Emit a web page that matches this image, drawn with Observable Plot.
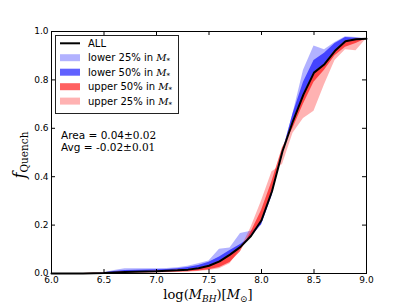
<!DOCTYPE html>
<html>
<head>
<meta charset="utf-8">
<script src="https://cdn.jsdelivr.net/npm/d3@7"></script>
<script src="https://cdn.jsdelivr.net/npm/@observablehq/plot@0.6"></script>
<style>
  html, body { margin: 0; padding: 0; background: #fff; }
  #chart { position: relative; width: 407px; height: 305px; }
</style>
</head>
<body>
<div id="chart"></div>
<script>
// ---- data ----
const logMBH = [6.0,6.1,6.2,6.3,6.4,6.5,6.6,6.7,6.8,6.9,7.0,7.1,7.2,7.3,7.4,7.5,7.6,7.7,7.8,7.9,8.0,8.1,8.2,8.3,8.4,8.5,8.6,8.7,8.8,8.9,9.0];
const fAll   = [0,0,0,0,0.001,0.002,0.004,0.006,0.007,0.008,0.009,0.011,0.013,0.016,0.022,0.032,0.05,0.078,0.11,0.155,0.22,0.34,0.505,0.63,0.74,0.83,0.865,0.92,0.96,0.968,0.97];
const fLow25 = [0,0,0,0,0.001,0.003,0.012,0.02,0.02,0.02,0.02,0.021,0.024,0.03,0.04,0.052,0.10,0.105,0.165,0.175,0.20,0.32,0.50,0.66,0.84,0.94,0.925,0.955,0.978,0.975,0.97];
const fLow50 = [0,0,0,0,0.001,0.003,0.008,0.012,0.013,0.014,0.015,0.017,0.02,0.025,0.033,0.046,0.068,0.095,0.12,0.15,0.20,0.32,0.50,0.66,0.79,0.88,0.91,0.95,0.975,0.972,0.97];
const fUp50  = [0,0,0,0,0,0.001,0.002,0.002,0.003,0.003,0.004,0.005,0.006,0.007,0.01,0.015,0.025,0.045,0.09,0.17,0.26,0.38,0.52,0.60,0.70,0.79,0.84,0.90,0.935,0.95,0.97];
const fUp25  = [0,0,0,0,0,0.001,0.001,0.002,0.002,0.002,0.002,0.003,0.004,0.005,0.008,0.012,0.02,0.04,0.10,0.19,0.30,0.42,0.45,0.58,0.64,0.67,0.78,0.88,0.925,0.92,0.97];
const xTicks = [6.0,6.5,7.0,7.5,8.0,8.5,9.0];
const yTicks = [0.0,0.2,0.4,0.6,0.8,1.0];
const seriesNames = ["lower 25% in ", "lower 50% in ", "upper 50% in ", "upper 25% in "];
const areaText = ["Area = 0.04", "±0.02"];
const avgText = ["Avg = -0.02", "±0.01"];

const table = logMBH.map((x, i) => ({x, all: fAll[i], l25: fLow25[i], l50: fLow50[i], u50: fUp50[i], u25: fUp25[i]}));
const fills = ["rgba(0,0,255,0.3)", "rgba(0,0,255,0.62)", "rgba(255,0,0,0.62)", "rgba(255,0,0,0.3)"];

const W = 407, H = 305, mL = 51, mR = 41, mT = 31, mB = 32;
const innerW = W - mL - mR, innerH = H - mT - mB;
const tk = 4;

const plot = Plot.plot({
  width: W, height: H,
  marginLeft: mL, marginRight: mR, marginTop: mT, marginBottom: mB,
  style: {fontFamily: "DejaVu Sans", fontSize: "9px", background: "#fff", color: "#000"},
  x: {domain: [6, 9]},
  y: {domain: [0, 1]},
  marks: [
    Plot.areaY(table, {x: "x", y1: "all", y2: "l25", fill: fills[0]}),
    Plot.areaY(table, {x: "x", y1: "all", y2: "l50", fill: fills[1]}),
    Plot.areaY(table, {x: "x", y1: "all", y2: "u50", fill: fills[2]}),
    Plot.areaY(table, {x: "x", y1: "all", y2: "u25", fill: fills[3]}),
    Plot.line(table, {x: "x", y: "all", stroke: "#000", strokeWidth: 2}),
    Plot.frame({stroke: "#000", strokeWidth: 1}),
    Plot.tickX(xTicks, {x: d => d, insetTop: innerH - tk, stroke: "#000"}),
    Plot.tickX(xTicks, {x: d => d, insetBottom: innerH - tk, stroke: "#000"}),
    Plot.tickY(yTicks, {y: d => d, insetRight: innerW - tk, stroke: "#000"}),
    Plot.tickY(yTicks, {y: d => d, insetLeft: innerW - tk, stroke: "#000"}),
    Plot.axisX({ticks: xTicks, tickSize: 0, tickPadding: 3, tickFormat: d3.format(".1f"), label: null}),
    Plot.axisY({ticks: yTicks, tickSize: 0, tickPadding: 3, tickFormat: d3.format(".1f"), label: null})
  ]
});
document.getElementById("chart").appendChild(plot);

const svg = d3.select(plot);
const serif = "DejaVu Serif";

// legend
const lg = svg.append("g").attr("text-anchor", "start");
lg.append("rect").attr("x", 55.5).attr("y", 35.5).attr("width", 123).attr("height", 78)
  .attr("fill", "#fff").attr("stroke", "#222").attr("stroke-width", 1);
const rows = [43.3, 57.7, 72.2, 86.7, 101.1];
lg.append("line").attr("x1", 60).attr("x2", 80).attr("y1", rows[0]).attr("y2", rows[0])
  .attr("stroke", "#000").attr("stroke-width", 2);
lg.append("text").attr("x", 88).attr("y", rows[0] + 3.6).attr("font-family", "DejaVu Sans")
  .attr("font-size", 10).text("ALL");
seriesNames.forEach((name, i) => {
  const y = rows[i + 1];
  lg.append("rect").attr("x", 60).attr("y", y - 3.5).attr("width", 20).attr("height", 7).attr("fill", fills[i]);
  const t = lg.append("text").attr("x", 88).attr("y", y + 3.6).attr("font-family", "DejaVu Sans").attr("font-size", 10);
  t.append("tspan").text(name);
  t.append("tspan").attr("font-family", serif).attr("font-style", "italic").text("M");
  t.append("tspan").attr("font-family", serif).attr("font-size", 7).attr("dy", 2).text("*");
});

// annotation
[[areaText, 139], [avgText, 151]].forEach(([parts, y]) => {
  const t = svg.append("text").attr("text-anchor", "start").attr("x", 61).attr("y", y)
    .attr("font-family", "DejaVu Sans").attr("font-size", 10.5);
  t.append("tspan").text(parts[0]);
  t.append("tspan").attr("font-family", serif).text(parts[1]);
});

// y label
const yl = svg.append("text").attr("transform", "translate(25,155) rotate(-90)")
  .attr("text-anchor", "middle").attr("font-family", serif);
yl.append("tspan").attr("font-style", "italic").attr("font-size", 16).text("f");
yl.append("tspan").attr("font-size", 10.5).attr("dy", 3).text("Quench");

// x label
const xl = svg.append("text").attr("x", 208).attr("y", 299).attr("text-anchor", "middle")
  .attr("font-family", serif).attr("font-size", 13);
xl.append("tspan").text("log(");
xl.append("tspan").attr("font-style", "italic").text("M");
xl.append("tspan").attr("font-style", "italic").attr("font-size", 9).attr("dy", 2.5).text("BH");
xl.append("tspan").attr("dy", -2.5).text(")[");
xl.append("tspan").attr("font-style", "italic").text("M");
xl.append("tspan").attr("font-size", 9).attr("dy", 2.5).text("⊙");
xl.append("tspan").attr("dy", -2.5).text("]");
</script>
</body>
</html>
